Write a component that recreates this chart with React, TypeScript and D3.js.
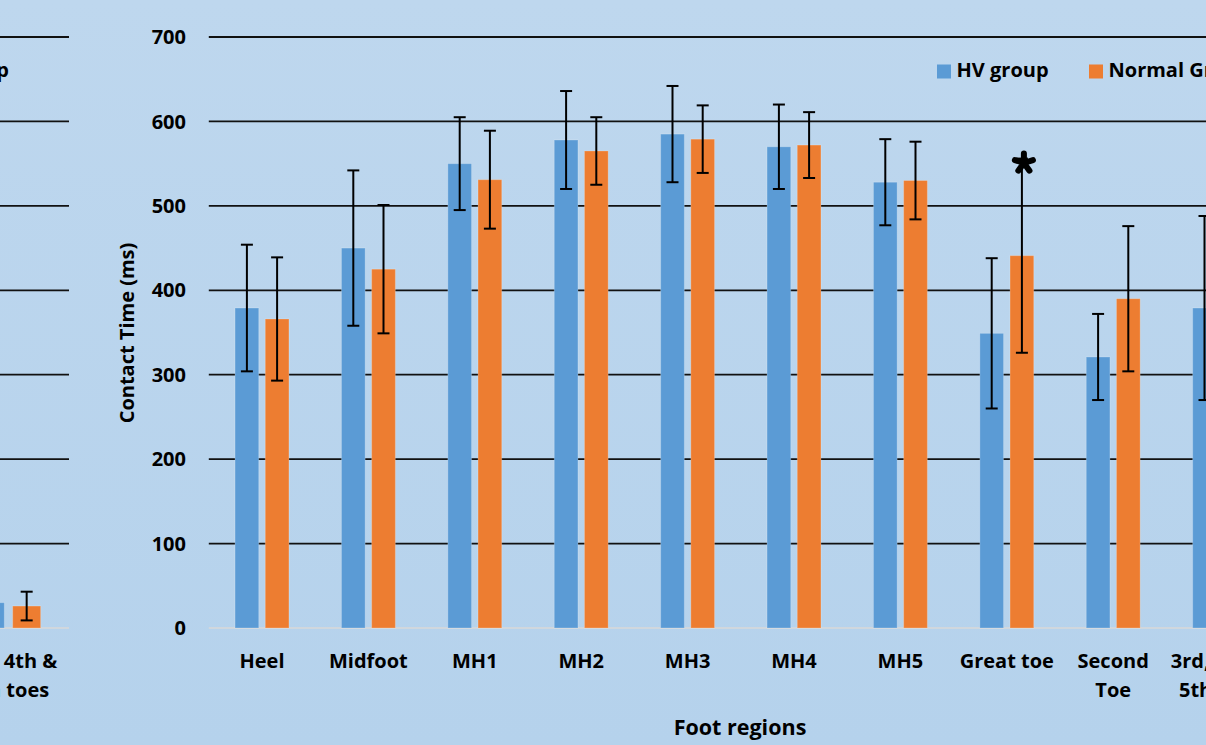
import React from 'react';
import * as d3 from 'd3';

// ---- Data ----
const categories = ['Heel', 'Midfoot', 'MH1', 'MH2', 'MH3', 'MH4', 'MH5', 'Great toe', 'Second Toe', '3rd, 4th & 5th toes'];
const categoryLines = [['Heel'], ['Midfoot'], ['MH1'], ['MH2'], ['MH3'], ['MH4'], ['MH5'], ['Great toe'], ['Second', 'Toe'], ['3rd, 4th &', '5th toes']];
const seriesNames = ['HV group', 'Normal Group'];
const hvMeans = [379, 450, 550, 578, 585, 570, 528, 349, 321, 379];
const hvErr = [75, 92, 55, 58, 57, 50, 51, 89, 51, 109];
const normalMeans = [366, 425, 531, 565, 579, 572, 530, 441, 390, 340];
const normalErr = [73, 76, 58, 40, 40, 39, 46, 115, 86, 95];
const significant = [false, false, false, false, false, false, false, true, false, false];
const yTicks = [0, 100, 200, 300, 400, 500, 600, 700];

// Neighbouring (cropped) panel on the left: only its last group is visible
const leftCategories = ['3rd, 4th & 5th toes'];
const leftCategoryLines = [['3rd, 4th &', '5th toes']];
const leftHvMeans = [30];
const leftHvErr = [15];
const leftNormalMeans = [26];
const leftNormalErr = [17];

const colors = ['#5B9BD5', '#ED7D31'];
const FONT = '"Open Sans", "Noto Sans", sans-serif';
const asteriskAngles = [-90, -18, 54, 126, 198];

export default function App() {
  const W = 1206, H = 745;
  const y = d3.scaleLinear().domain([0, 700]).range([628, 37]);

  // main chart scales
  const band = 106.4;
  const x0 = d3.scaleBand<string>().domain(categories).range([208.8, 208.8 + band * categories.length]).padding(0);
  const x1 = d3.scaleBand<string>().domain(seriesNames).range([0, x0.bandwidth()]).paddingInner(0.215).paddingOuter(0.869);

  // left chart scales (cropped)
  const lband = 121;
  const lx0 = d3.scaleBand<string>().domain(leftCategories).range([69 - lband * leftCategories.length, 69]).padding(0);
  const lx1 = d3.scaleBand<string>().domain(seriesNames).range([0, lx0.bandwidth()]).paddingInner(0.23).paddingOuter(0.78);

  const mainSeries = [
    { name: seriesNames[0], means: hvMeans, errs: hvErr, color: colors[0] },
    { name: seriesNames[1], means: normalMeans, errs: normalErr, color: colors[1] },
  ];
  const leftSeries = [
    { name: seriesNames[0], means: leftHvMeans, errs: leftHvErr, color: colors[0] },
    { name: seriesNames[1], means: leftNormalMeans, errs: leftNormalErr, color: colors[1] },
  ];

  const armLen = 9.5;
  const asteriskPath = asteriskAngles
    .map(a => {
      const r = (a * Math.PI) / 180;
      return `M0,0L${(Math.cos(r) * armLen).toFixed(2)},${(Math.sin(r) * armLen).toFixed(2)}`;
    })
    .join('');

  const renderBars = (cats: string[], sx0: any, sx1: any, series: any[], key: string) => (
    <g>
      {series.map((s, si) =>
        cats.map((c, i) => {
          const bx = sx0(c) + sx1(s.name);
          const bw = sx1.bandwidth();
          const v = s.means[i];
          return (
            <rect key={`${key}-b-${si}-${i}`} x={bx} y={y(v)} width={bw} height={y(0) - y(v)}
              fill={s.color} stroke="rgba(255,255,255,0.22)" strokeWidth={1} />
          );
        })
      )}
      {series.map((s, si) =>
        cats.map((c, i) => {
          const cx = sx0(c) + sx1(s.name) + sx1.bandwidth() / 2;
          const v = s.means[i], e = s.errs[i];
          return (
            <g key={`${key}-e-${si}-${i}`} stroke="#000" strokeWidth={2}>
              <line x1={cx} x2={cx} y1={y(v + e)} y2={y(v - e)} />
              <line x1={cx - 6} x2={cx + 6} y1={y(v + e)} y2={y(v + e)} />
              <line x1={cx - 6} x2={cx + 6} y1={y(v - e)} y2={y(v - e)} />
            </g>
          );
        })
      )}
    </g>
  );

  return (
    <svg width={W} height={H} style={{ position: 'fixed', left: 0, top: 0, display: 'block' }} fontFamily={FONT}>
      <defs>
        <linearGradient id="bg" x1="0" y1="0" x2="0" y2="1">
          <stop offset="0%" stopColor="#BED7EE" />
          <stop offset="100%" stopColor="#B5D2EC" />
        </linearGradient>
      </defs>
      <rect x={0} y={0} width={W} height={H} fill="url(#bg)" />

      {/* ---- left cropped panel ---- */}
      <g>
        {yTicks.filter(t => t > 0).map(t => (
          <line key={`lg-${t}`} x1={0} x2={69} y1={y(t)} y2={y(t)} stroke="#111" strokeWidth={1.8} />
        ))}
        <line x1={0} x2={69} y1={y(0)} y2={y(0)} stroke="#D9D9D9" strokeWidth={1.5} />
        {renderBars(leftCategories, lx0, lx1, leftSeries, 'l')}
        {leftCategories.map((c, i) => (
          <text key={`lc-${i}`} x={lx0(c) + lx0.bandwidth() / 2} textAnchor="middle" fontSize={20} fontWeight={700} fill="#000">
            {leftCategoryLines[i].map((ln, li) => (
              <tspan key={li} x={lx0(c) + lx0.bandwidth() / 2} y={668 + li * 29}>{ln}</tspan>
            ))}
          </text>
        ))}
        <text x={9} y={77} textAnchor="end" fontSize={20} fontWeight={700} fill="#000">Normal Group</text>
      </g>

      {/* ---- main panel ---- */}
      <g>
        {yTicks.filter(t => t > 0).map(t => (
          <line key={`g-${t}`} x1={208.8} x2={W} y1={y(t)} y2={y(t)} stroke="#111" strokeWidth={1.8} />
        ))}
        <line x1={208.8} x2={W} y1={y(0)} y2={y(0)} stroke="#D9D9D9" strokeWidth={1.5} />
        {yTicks.map(t => (
          <text key={`t-${t}`} x={186} y={y(t)} dy="0.36em" textAnchor="end" fontSize={20} fontWeight={700} fill="#000">{t}</text>
        ))}
        {renderBars(categories, x0, x1, mainSeries, 'm')}
        {categories.map((c, i) => significant[i] ? (
          <path key={`s-${i}`} d={asteriskPath} transform={`translate(${x0(c) + x1(seriesNames[1]) + x1.bandwidth() / 2 + 2},${163})`}
            stroke="#000" strokeWidth={6} strokeLinecap="round" fill="none" />
        ) : null)}
        {categories.map((c, i) => (
          <text key={`c-${i}`} textAnchor="middle" fontSize={20} fontWeight={700} fill="#000">
            {categoryLines[i].map((ln, li) => (
              <tspan key={li} x={x0(c) + x0.bandwidth() / 2} y={668 + li * 29}>{ln}</tspan>
            ))}
          </text>
        ))}
        <text x={740} y={735} textAnchor="middle" fontSize={21.5} fontWeight={700} fill="#000">Foot regions</text>
        <text transform={`translate(134,333) rotate(-90)`} textAnchor="middle" fontSize={20} fontWeight={700} fill="#000">Contact Time (ms)</text>

        {/* legend */}
        {seriesNames.map((n, i) => {
          const lx = [937, 1089][i];
          return (
            <g key={`lg-${i}`}>
              <rect x={lx} y={64.5} width={14} height={14} fill={colors[i]} />
              <text x={lx + 19.5} y={77} fontSize={20} fontWeight={700} fill="#000">{n}</text>
            </g>
          );
        })}
      </g>
    </svg>
  );
}
